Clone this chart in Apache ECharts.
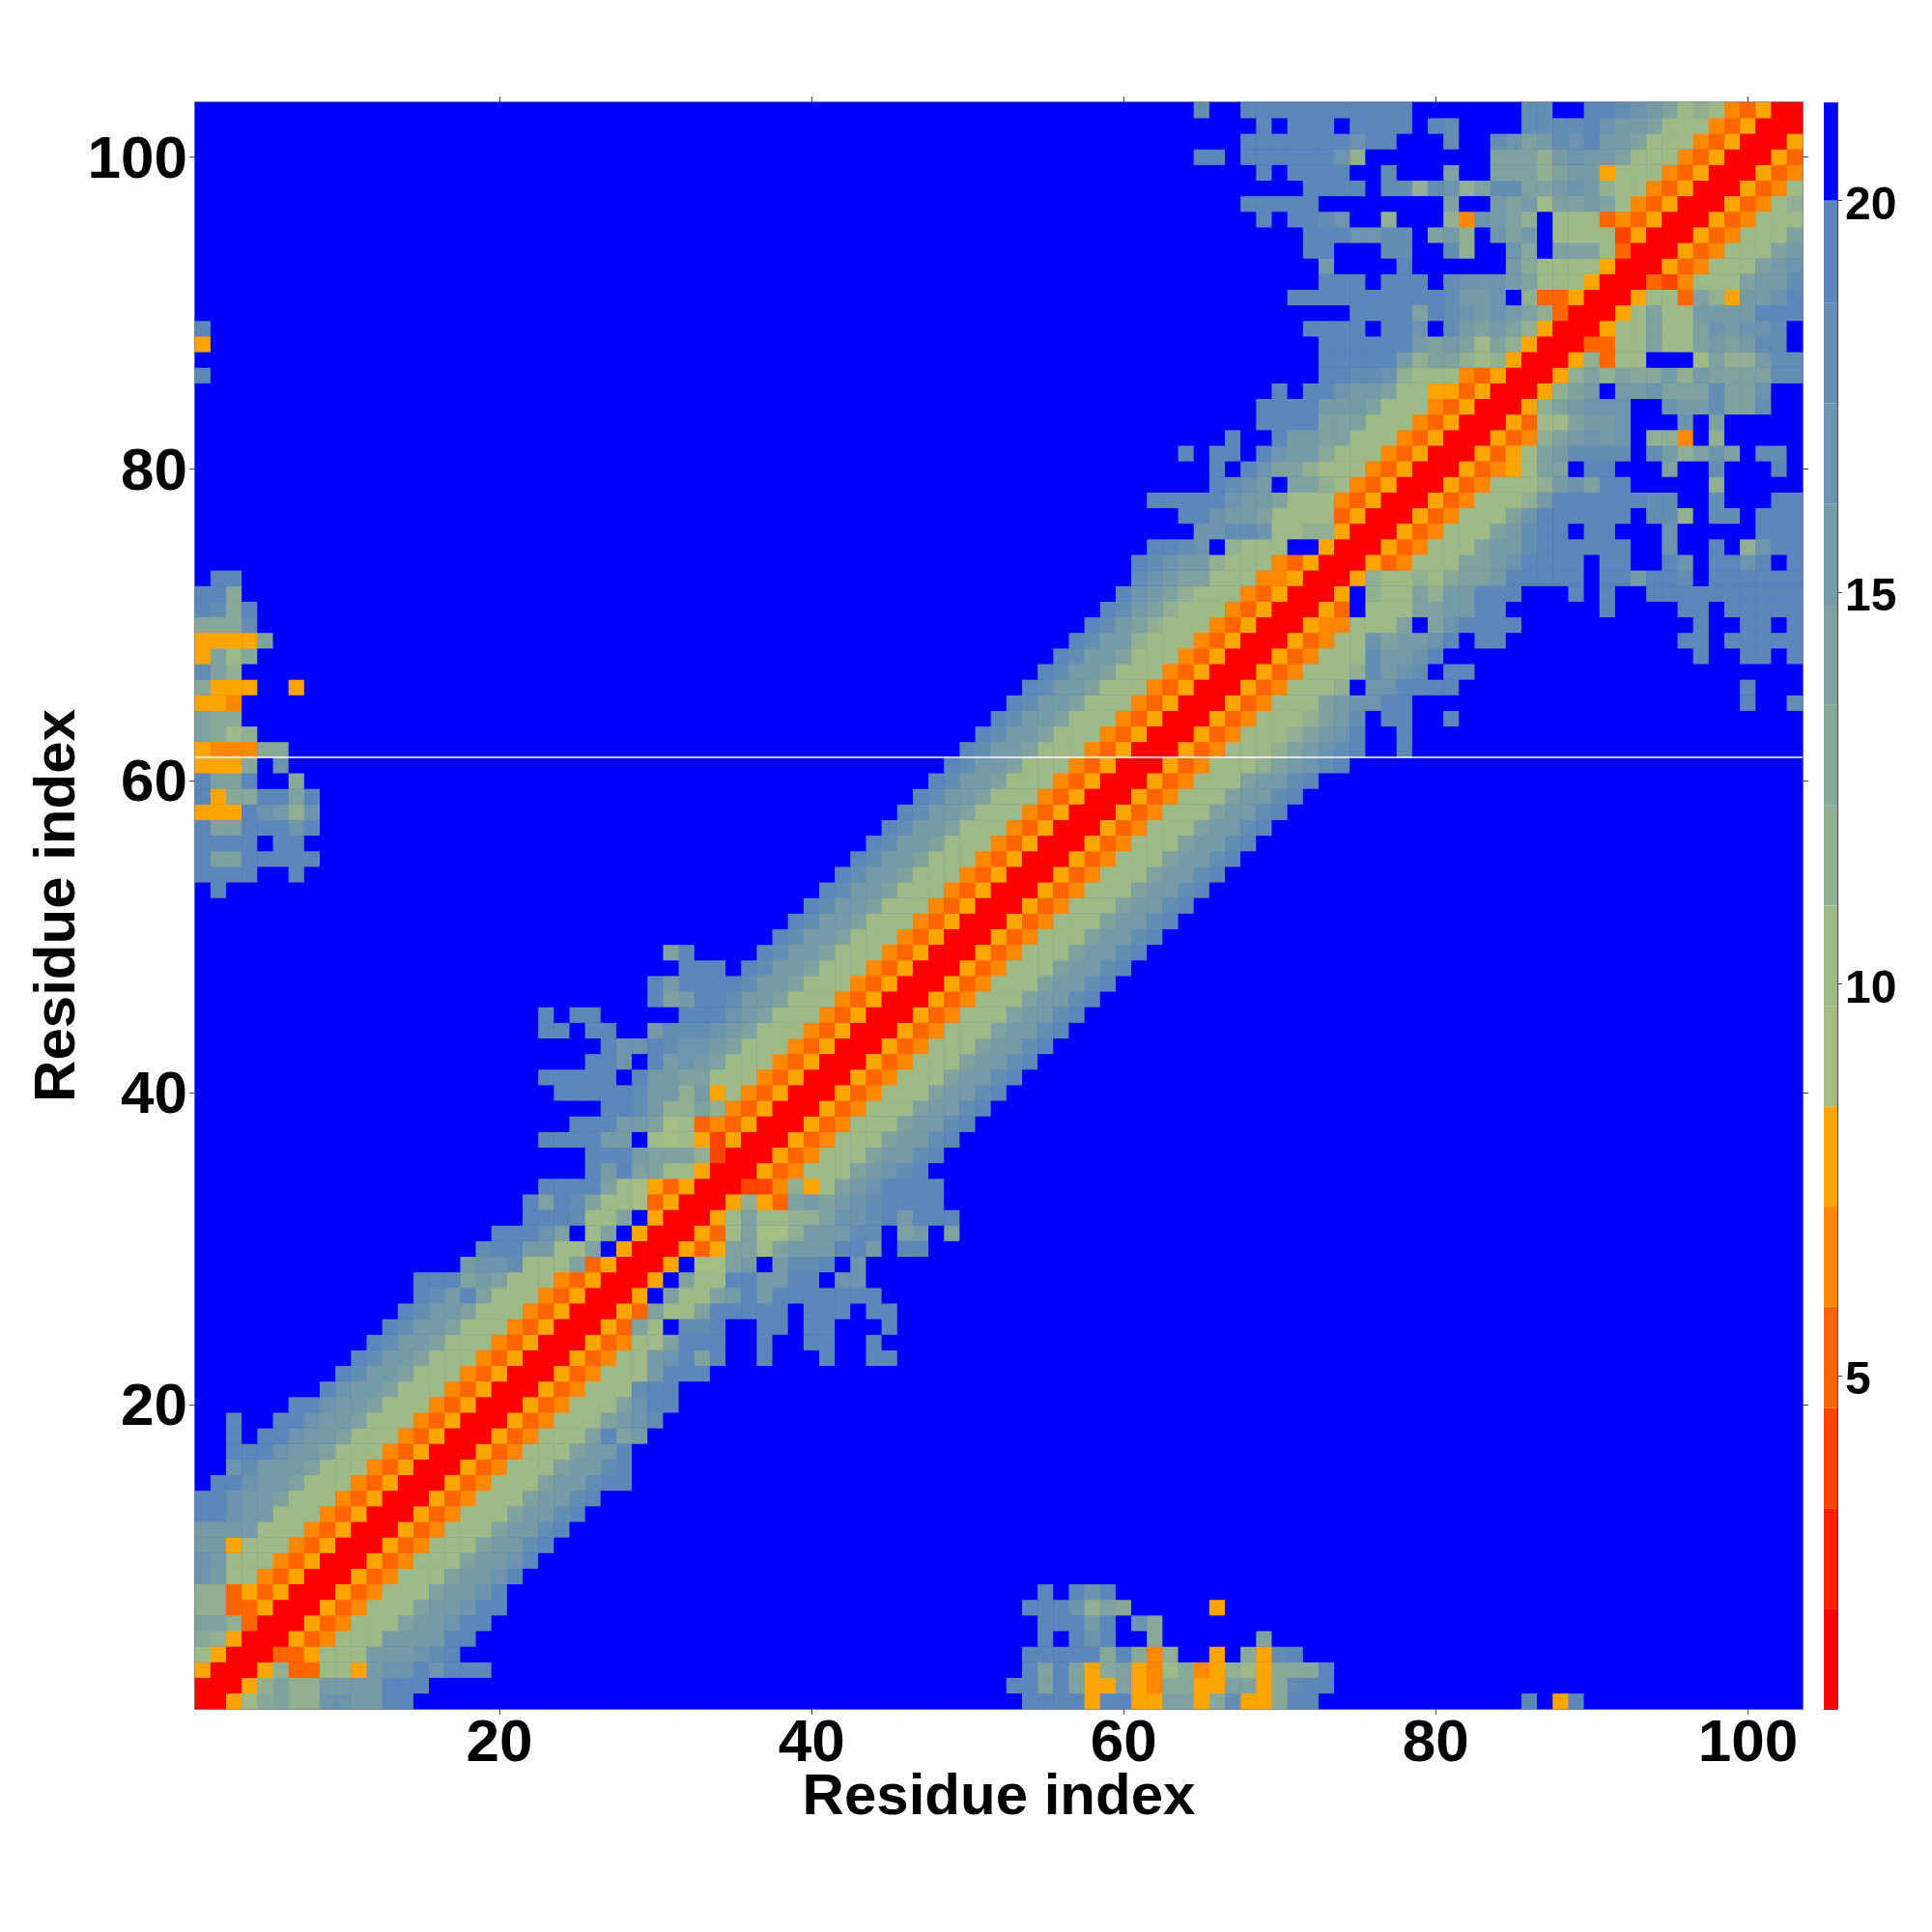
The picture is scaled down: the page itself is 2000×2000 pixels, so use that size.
<!DOCTYPE html>
<html>
<head>
<meta charset="utf-8">
<style>html,body{margin:0;padding:0;background:#fff}#c{width:2000px;height:2000px}</style>
<script src="https://cdn.jsdelivr.net/npm/echarts@6/dist/echarts.min.js"></script>
</head>
<body>
<div id="c"></div>
<script>
// Residue index, 1..103 on both axes
const residueCount = 103;
const tickValues = [20, 40, 60, 80, 100];
const colorbarTicks = [5, 10, 15, 20];
const colorbarMin = 0.75;
const colorbarMax = 21.25;
const xTitle = "Residue index";
const yTitle = "Residue index";
const seamRow = 61.5;

// one colour per band of the colour bar, digit 0..F
const bandColors = ["#ff0000","#ff2200","#ff4400","#ff6600","#ff8800","#ffa500",
  "#a3bd84","#9fb987","#91af92","#88a899","#7fa2a0","#769ba6","#6d94ad","#648db4","#5b87ba","#0000ff"];
const bandUpperEdges = [2.03,3.31,4.59,5.88,7.16,8.44,9.72,11,12.28,13.56,14.84,16.13,17.41,18.69,20,21.25];

// Upper triangle of the symmetric matrix, row 1 first. "col:digits" = digits start at that column,
// every cell not listed falls in the top band (digit F).
const triangleRows = [
"1:00579A88CCBBEE 54:EEEE5EE55AA59D559EE 86:E 88:5E",
"2:0058A88BBBBEEE 53:EEAEA55A549955AA59DEE",
"3:005833775BCCECEEE 54:EAEA59A547945875999E",
"4:00335777BBBCDE 54:EEEEE9E948FF5F95DE",
"5:00534777BBBBEE 55:EFECEFF9 69:A",
"6:00534777ABBCEE 55:EEEBEFC9",
"7:00534777ABBCEE 54:EEEC8A9 66:5",
"8:00534777ABBCE 55:E 57:ECE",
"9:00534777ABBCE",
"10:00534777ABBCE",
"11:00534777ABBDE",
"12:00534777ABBDE",
"13:00534777ABBDE",
"14:00534777ABBDE",
"15:00534777ABBDEE",
"16:00534777ABBDE",
"17:00534777ABBE",
"18:00534777AEAB",
"19:00534777ABCD",
"20:00534777ACEE",
"21:00534777DEE",
"22:00534777BEEE",
"23:0053477BCEAE 37:E 41:E 44:EE",
"24:0053477AEEE 37:E 40:EE 44:E",
"25:0053A7FDDE 37:EE 40:EE 45:E",
"26:0053A77AEEEEE 40:EEE 44:EE",
"27:005FA77ABEBEEEEEEE",
"28:005FA77EEBBEEFCC",
"29:005F66ABFBDDEFC",
"30:00535AA7ABBBEEBFEE",
"31:00537A668BBBDDFABFA",
"32:0057A7788ACCDEBEEE",
"33:005853ABABCDEEEE",
"34:00224857ABCEEEE",
"35:00534777ABCDE",
"36:00534777ABBDE",
"37:00534777ABBDE",
"38:00534777ABBDE",
"39:00534777ABBDE",
"40:00534777ABBDE",
"41:00534777ABBDE",
"42:00534777ABBDE",
"43:00534777ABBDE",
"44:00534777ABBDE",
"45:00534777ABBDE",
"46:00534777ABBDE",
"47:00534777ABBDE",
"48:00534777ABBDE",
"49:00534777ABBDE",
"50:00534777ABBDE",
"51:00534777ABBDE",
"52:00534777ABBDE",
"53:00534777ABBDE",
"54:00534777ABBDE",
"55:00534777ABBDE",
"56:00534777ABBDE",
"57:00534777ABBDE",
"58:00534777ABBDE",
"59:00534777ABBDE",
"60:00534777ABBDE",
"61:005347778ABCDE",
"62:005347778ABCDE 78:E",
"63:005347778ABCE 78:E",
"64:005347778ABD 77:EE 81:E",
"65:00534777ABCCEE 100:E 103:D",
"66:005347778FCCEEEE 100:E",
"67:005347778DBCDFEE",
"68:00534777DBBCE 97:E 100:EE 103:E",
"69:0053477CABBCEFEE 96:EE 99:EEEEE",
"70:00544777AFACEEEE 97:E 100:EE 103:E",
"71:0053F777AABBEE 91:E 96:EE 99:EEEEE",
"72:005F877A8BBEEE 89:E 91:E 94:EEEEEEEEEE",
"73:005877879AABEEEEE 91:EEBEED 98:EEEEEE",
"74:00534777AABCEEEE 91:EE 95:EC 98:EECE 103:E",
"75:00534777ABBDEEEEEE 95:C 98:E 100:8CEE",
"76:00534777ABDEE 90:EE 95:C 101:EEE",
"77:00534777ACEEEEEE 94:DD8 98:DD 101:EEE",
"78:005347778BEEEEEE 94:DD 98:D 102:EE",
"79:005347778BCAEE 98:8",
"80:0053457AAFEE 95:A 98:D 102:E",
"81:005357ABDDDD 94:DB8ACA 101:DD",
"82:005348ABCBCF884F8",
"83:005377ABBC 96:C 98:A",
"84:0058ABCCC 95:CBBDAAD",
"85:0058ABFBBCAAADAAC",
"86:0058A8A99B8BAAAADD",
"87:0058377FFF7A88BDD",
"88:003377A77ABABDD",
"89:00577A77ACBCCD",
"90:0057A77BBBBEEE",
"91:005773A85BBCE",
"92:00324777ABBD",
"93:00534777ABC",
"94:00534777AB",
"95:00534777A",
"96:00534777",
"97:0053478",
"98:005347",
"99:00534",
"100:0053",
"101:005",
"102:00",
"103:0"
];

// middle of each colour-bar band, the value given to a cell of that digit
const bandLowerEdges = [colorbarMin].concat(bandUpperEdges.slice(0, -1));
const bandMids = bandUpperEdges.map((u, i) => (u + bandLowerEdges[i]) / 2);

function parseRows() {
  const cells = new Map();
  triangleRows.forEach((line, i) => {
    const row = i + 1;
    line.split(/\s+(?=\d+:)/).forEach(tok => {
      const idx = tok.indexOf(":");
      const start = parseInt(tok.slice(0, idx), 10);
      const digits = tok.slice(idx + 1).replace(/\s/g, "");
      for (let k = 0; k < digits.length; k++) {
        const col = start + k;
        if (col > residueCount) continue;
        const lv = parseInt(digits[k], 16);
        cells.set(row + "," + col, lv);
        cells.set(col + "," + row, lv);
      }
    });
  });
  return cells;
}
const cells = parseRows();
const categories = Array.from({length: residueCount}, (_, i) => String(i + 1));
const heatData = [];
for (let r = 1; r <= residueCount; r++) {
  for (let c = 1; c <= residueCount; c++) {
    const lv = cells.has(r + "," + c) ? cells.get(r + "," + c) : 15;
    heatData.push([c - 1, r - 1, bandMids[lv]]);
  }
}
const pieces = bandColors.map((color, i) => ({gt: bandLowerEdges[i], lte: bandUpperEdges[i], color}));

const tickFont = {fontFamily: "Liberation Sans", fontWeight: "bold", color: "#000"};
const lineStyle = {color: "#5a5a6a", width: 1.5};
const tick = {show: true, length: 6, lineStyle: {color: "#444", width: 1}, customValues: tickValues};
const hiddenCat = {type: "category", data: categories, show: false, boundaryGap: true};
const range = {min: 0.5, max: residueCount + 0.5};

const chart = echarts.init(document.getElementById("c"), null, {renderer: "canvas", width: 2000, height: 2000});
chart.setOption({
  animation: false,
  backgroundColor: "#fff",
  grid: [
    {left: 202, top: 106, width: 1664, height: 1663, show: true, backgroundColor: "#0000ff", borderWidth: 0},
    {left: 1888, top: 106, width: 14, height: 1663, show: false}
  ],
  xAxis: [
    Object.assign({gridIndex: 0}, hiddenCat),
    Object.assign({type: "value", gridIndex: 0, position: "bottom", splitLine: {show: false},
      axisLine: {show: true, onZero: false, lineStyle}, axisTick: tick,
      axisLabel: Object.assign({show: true, fontSize: 62, margin: 6, customValues: tickValues}, tickFont),
      name: xTitle, nameLocation: "middle", nameGap: 62, nameMoveOverlap: false,
      nameTextStyle: Object.assign({fontSize: 60}, tickFont)}, range),
    Object.assign({type: "value", gridIndex: 0, position: "top", splitLine: {show: false},
      axisLine: {show: true, onZero: false, lineStyle}, axisTick: tick, axisLabel: {show: false}}, range),
    {type: "category", gridIndex: 1, data: ["bar"], show: true, boundaryGap: true,
      axisTick: {show: false}, axisLabel: {show: false}, axisLine: {show: true, lineStyle: {color: "#444", width: 1}}}
  ],
  yAxis: [
    Object.assign({gridIndex: 0}, hiddenCat),
    Object.assign({type: "value", gridIndex: 0, position: "left", splitLine: {show: false},
      axisLine: {show: true, onZero: false, lineStyle}, axisTick: tick,
      axisLabel: Object.assign({show: true, fontSize: 62, margin: 8, verticalAlign: "top", lineHeight: 8, customValues: tickValues}, tickFont),
      name: yTitle, nameLocation: "middle", nameGap: 112, nameMoveOverlap: false,
      nameTextStyle: Object.assign({fontSize: 60}, tickFont)}, range),
    Object.assign({type: "value", gridIndex: 0, position: "right", splitLine: {show: false},
      axisLine: {show: true, onZero: false, lineStyle}, axisTick: tick, axisLabel: {show: false}}, range),
    {type: "value", gridIndex: 1, position: "right", min: colorbarMin, max: colorbarMax, splitLine: {show: false},
      axisLine: {show: true, onZero: false, lineStyle: {color: "#444", width: 1}},
      axisTick: {show: true, length: 5, lineStyle: {color: "#444", width: 1}, customValues: colorbarTicks},
      axisLabel: Object.assign({show: true, fontSize: 48, margin: 8, verticalAlign: "top", lineHeight: 12, customValues: colorbarTicks}, tickFont)}
  ],
  visualMap: {type: "piecewise", show: false, dimension: 2, seriesIndex: 0, pieces},
  series: [
    {type: "heatmap", xAxisIndex: 0, yAxisIndex: 0, data: heatData, progressive: 0, silent: true,
      itemStyle: {borderWidth: 0}, emphasis: {disabled: true}},
    {type: "line", xAxisIndex: 1, yAxisIndex: 1, silent: true, symbol: "none", z: 5,
      data: [[range.min, seamRow], [range.max, seamRow]], lineStyle: {color: "#ffffff", width: 1.5}}
  ].concat(bandColors.map((color, i) => ({
    type: "bar", xAxisIndex: 3, yAxisIndex: 3, stack: "colorbar", barWidth: "100%", silent: true,
    data: [bandUpperEdges[i] - (i === 0 ? 0 : bandUpperEdges[i - 1])],
    itemStyle: {color}
  })))
});
</script>
</body>
</html>
